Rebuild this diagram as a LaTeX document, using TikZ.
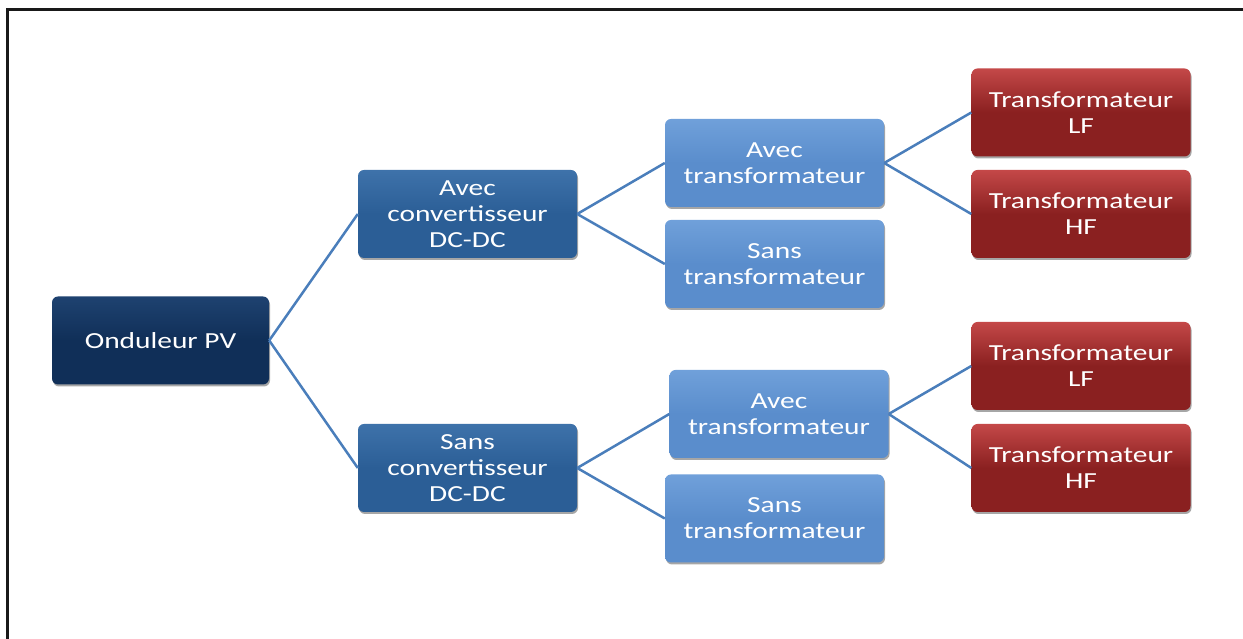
\documentclass[tikz,border=0pt]{standalone}
\usepackage{fontspec}
\setmainfont{Carlito}[FakeStretch=1.28]
\usetikzlibrary{shadows}
\definecolor{navy}{RGB}{16,47,88}
\definecolor{navytop}{RGB}{30,66,112}
\definecolor{midblue}{RGB}{43,94,150}
\definecolor{midbluetop}{RGB}{62,114,170}
\definecolor{lightblue}{RGB}{90,141,204}
\definecolor{lightbluetop}{RGB}{112,160,218}
\definecolor{darkred}{RGB}{138,32,32}
\definecolor{darkredtop}{RGB}{196,72,72}
\definecolor{linkblue}{RGB}{74,126,187}
\tikzset{
  box/.style={rectangle, rounded corners=6pt, minimum width=219pt, minimum height=88pt,
    inner sep=0pt, align=center, text=white,
    font=\fontsize{23}{26}\selectfont,
    drop shadow={shadow xshift=1pt, shadow yshift=-2pt, opacity=0.35, fill=black}},
  lvlzero/.style={box, minimum width=217pt, top color=navytop, bottom color=navy, middle color=navy},
  lvlone/.style={box, top color=midbluetop, bottom color=midblue, middle color=midblue},
  lvltwo/.style={box, top color=lightbluetop, bottom color=lightblue, middle color=lightblue},
  lvlthree/.style={box, top color=darkredtop, bottom color=darkred, middle color=darkred},
  link/.style={draw=linkblue, line width=2.5pt},
  frame/.style={draw=black!90, line width=3pt}
}
\begin{document}
\begin{tikzpicture}[x=1pt,y=1pt]
\useasboundingbox (0,0) rectangle (1243,639);
\coordinate (ftl) at (7,629);
\coordinate (ftr) at (1243,629);
\coordinate (fbl) at (7,0);
\draw[frame] (ftr) -- (ftl) -- (fbl);

\node[lvlzero] (ond) at (160.5,298.5) {Onduleur PV};
\node[lvlone] (adc) at (467.5,425) {Avec\\convertisseur\\DC-DC};
\node[lvlone] (sdc) at (467.5,171) {Sans\\convertisseur\\DC-DC};
\node[lvltwo] (at1) at (774.5,476) {Avec\\transformateur};
\node[lvltwo] (st1) at (774.5,375) {Sans\\transformateur};
\node[lvltwo] (at2) at (779,225) {Avec\\transformateur};
\node[lvltwo] (st2) at (774.5,120.5) {Sans\\transformateur};
\node[lvlthree] (lf1) at (1081,526.5) {Transformateur\\LF};
\node[lvlthree] (hf1) at (1081,425) {Transformateur\\HF};
\node[lvlthree] (lf2) at (1081,273) {Transformateur\\LF};
\node[lvlthree] (hf2) at (1081,171) {Transformateur\\HF};

\draw[link] (ond.east) -- (adc.west);
\draw[link] (ond.east) -- (sdc.west);
\draw[link] (adc.east) -- (at1.west);
\draw[link] (adc.east) -- (st1.west);
\draw[link] (sdc.east) -- (at2.west);
\draw[link] (sdc.east) -- (st2.west);
\draw[link] (at1.east) -- (lf1.west);
\draw[link] (at1.east) -- (hf1.west);
\draw[link] (at2.east) -- (lf2.west);
\draw[link] (at2.east) -- (hf2.west);
\end{tikzpicture}
\end{document}
